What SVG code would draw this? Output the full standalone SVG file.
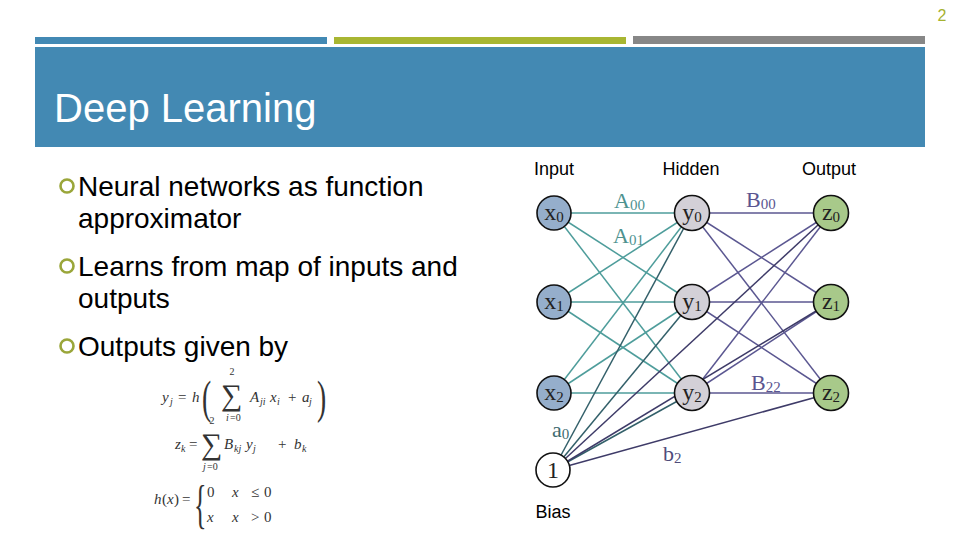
<svg xmlns="http://www.w3.org/2000/svg" width="960" height="540" viewBox="0 0 960 540">
<style>
.sans{font-family:"Liberation Sans",Arial,sans-serif}
.serif{font-family:"Liberation Serif","Times New Roman",serif}
.bullet{font-size:28px;fill:#000}
.ring{fill:none;stroke:#9aa63a;stroke-width:2.6}
.col{font-size:18px;fill:#000}
.node{stroke:#111;stroke-width:1.6}
.in{fill:#95aecb}
.hid{fill:#d3d0d7}
.out{fill:#a8c98a}
.bias{fill:#fff}
.nl{font-size:24px;fill:#222;text-anchor:middle}
.sub{font-size:15px}
.ih{stroke:#4e9d9b;stroke-width:1.5}
.bh{stroke:#33606a;stroke-width:1.5}
.ho{stroke:#5b5791;stroke-width:1.5}
.bo{stroke:#3e3b68;stroke-width:1.5}
.eq{font-family:"Liberation Serif","Times New Roman",serif;font-size:15px;fill:#333;font-style:italic}
.eqn{font-family:"Liberation Serif","Times New Roman",serif;fill:#333;font-style:normal}
.sm{font-size:10px}
</style>
<rect width="960" height="540" fill="#fff"/>
<text x="942" y="21" class="sans" font-size="16" fill="#a5b22f" text-anchor="middle">2</text>
<rect x="35" y="37" width="292" height="7" fill="#4289b4"/>
<rect x="334" y="37" width="292" height="7" fill="#a8b632"/>
<rect x="633" y="36" width="292" height="8" fill="#878787"/>
<rect x="35" y="47" width="890" height="100" fill="#4389b3"/>
<text x="54" y="122" class="sans" font-size="40" fill="#fff">Deep Learning</text>

<g id="bullets">
<circle class="ring" cx="67" cy="186" r="6.5"/>
<text x="78" y="196" class="sans bullet">Neural networks as function</text>
<text x="78" y="228" class="sans bullet">approximator</text>
<circle class="ring" cx="67" cy="266" r="6.5"/>
<text x="78" y="276" class="sans bullet">Learns from map of inputs and</text>
<text x="78" y="308" class="sans bullet">outputs</text>
<circle class="ring" cx="67" cy="346" r="6.5"/>
<text x="78" y="356" class="sans bullet">Outputs given by</text>
</g>

<g id="equations">
<text class="eq" x="162" y="402">y</text><text class="eq sm" x="170" y="405">j</text>
<text class="eqn" x="178" y="402" font-size="15">=</text>
<text class="eq" x="192" y="402">h</text>
<text class="eqn" x="202" y="413" font-size="46" transform="translate(202 0) scale(0.6 1) translate(-202 0)">(</text>
<text class="eqn" x="221" y="405" font-size="30">∑</text>
<text class="eqn sm" x="232" y="375" text-anchor="middle">2</text>
<text class="eq sm" x="226" y="421">i</text><text class="eqn sm" x="230" y="421">=0</text>
<text class="eq" x="250" y="402">A</text><text class="eq sm" x="260" y="405">ji</text>
<text class="eq" x="270" y="402">x</text><text class="eq sm" x="277" y="405">i</text>
<text class="eqn" x="288" y="402" font-size="15">+</text>
<text class="eq" x="302" y="402">a</text><text class="eq sm" x="309" y="405">j</text>
<text class="eqn" x="317" y="413" font-size="46" transform="translate(317 0) scale(0.6 1) translate(-317 0)">)</text>

<text class="eq" x="175" y="449">z</text><text class="eq sm" x="181" y="452">k</text>
<text class="eqn" x="189" y="449" font-size="15">=</text>
<text class="eqn" x="201" y="454" font-size="30">∑</text>
<text class="eqn sm" x="212" y="424" text-anchor="middle">2</text>
<text class="eq sm" x="203" y="470">j</text><text class="eqn sm" x="207" y="470">=0</text>
<text class="eq" x="224" y="449">B</text><text class="eq sm" x="234" y="452">kj</text>
<text class="eq" x="246" y="449">y</text><text class="eq sm" x="253" y="452">j</text>
<text class="eqn" x="278" y="449" font-size="15">+</text>
<text class="eq" x="294" y="449">b</text><text class="eq sm" x="302" y="452">k</text>

<text class="eq" x="154" y="504">h</text><text class="eqn" x="162" y="504" font-size="15">(</text><text class="eq" x="167" y="504">x</text><text class="eqn" x="174" y="504" font-size="15">)</text>
<text class="eqn" x="182" y="504" font-size="15">=</text>
<text class="eqn" x="194" y="522" font-size="52" transform="translate(194 0) scale(0.5 1) translate(-194 0)">{</text>
<text class="eqn" x="207" y="497" font-size="15">0</text>
<text class="eq" x="232" y="497">x</text><text class="eqn" x="251" y="497" font-size="15">≤</text><text class="eqn" x="264" y="497" font-size="15">0</text>
<text class="eq" x="207" y="522">x</text>
<text class="eq" x="232" y="522">x</text><text class="eqn" x="251" y="522" font-size="15">&gt;</text><text class="eqn" x="264" y="522" font-size="15">0</text>
</g>

<text x="554" y="175" class="sans col" text-anchor="middle">Input</text>
<text x="691" y="175" class="sans col" text-anchor="middle">Hidden</text>
<text x="829" y="175" class="sans col" text-anchor="middle">Output</text>
<text x="553" y="518" class="sans col" text-anchor="middle">Bias</text>

<g id="connectors">
<line class="ih" x1="554" y1="213" x2="692" y2="213"/>
<line class="ih" x1="554" y1="213" x2="692" y2="302"/>
<line class="ih" x1="554" y1="213" x2="692" y2="393"/>
<line class="ih" x1="554" y1="302" x2="692" y2="213"/>
<line class="ih" x1="554" y1="302" x2="692" y2="302"/>
<line class="ih" x1="554" y1="302" x2="692" y2="393"/>
<line class="ih" x1="554" y1="393" x2="692" y2="213"/>
<line class="ih" x1="554" y1="393" x2="692" y2="302"/>
<line class="ih" x1="554" y1="393" x2="692" y2="393"/>
<line class="bh" x1="553" y1="470" x2="692" y2="213"/>
<line class="bh" x1="553" y1="470" x2="692" y2="302"/>
<line class="bh" x1="553" y1="470" x2="692" y2="393"/>
<line class="ho" x1="692" y1="213" x2="831" y2="213"/>
<line class="ho" x1="692" y1="213" x2="831" y2="302"/>
<line class="ho" x1="692" y1="213" x2="831" y2="393"/>
<line class="ho" x1="692" y1="302" x2="831" y2="213"/>
<line class="ho" x1="692" y1="302" x2="831" y2="302"/>
<line class="ho" x1="692" y1="302" x2="831" y2="393"/>
<line class="ho" x1="692" y1="393" x2="831" y2="213"/>
<line class="ho" x1="692" y1="393" x2="831" y2="302"/>
<line class="ho" x1="692" y1="393" x2="831" y2="393"/>
<line class="bo" x1="553" y1="470" x2="831" y2="213"/>
<line class="bo" x1="553" y1="470" x2="831" y2="302"/>
<line class="bo" x1="553" y1="470" x2="831" y2="393"/>
</g>

<g id="edge-labels" class="serif">
<text x="614" y="208" font-size="22" fill="#4e9290">A<tspan font-size="15" dy="2">00</tspan></text>
<text x="613" y="243" font-size="22" fill="#4e9290">A<tspan font-size="15" dy="2">01</tspan></text>
<text x="746" y="207" font-size="22" fill="#5a5590">B<tspan font-size="15" dy="2">00</tspan></text>
<text x="751" y="390" font-size="22" fill="#5a5590">B<tspan font-size="15" dy="2">22</tspan></text>
<text x="552" y="437" font-size="22" fill="#3e6b70">a<tspan font-size="15" dy="2">0</tspan></text>
<text x="663" y="461" font-size="22" fill="#4f4c7a">b<tspan font-size="15" dy="2">2</tspan></text>
</g>

<g id="x0"><circle class="node in" cx="554" cy="213" r="17"/><text class="serif nl" x="554" y="220">x<tspan class="sub" dy="2">0</tspan></text></g>
<g id="x1"><circle class="node in" cx="554" cy="302" r="17"/><text class="serif nl" x="554" y="309">x<tspan class="sub" dy="2">1</tspan></text></g>
<g id="x2"><circle class="node in" cx="554" cy="393" r="17"/><text class="serif nl" x="554" y="400">x<tspan class="sub" dy="2">2</tspan></text></g>
<g id="bias"><circle class="node bias" cx="553" cy="470" r="17"/><text class="serif nl" x="553" y="478">1</text></g>
<g id="y0"><circle class="node hid" cx="692" cy="213" r="17.5"/><text class="serif nl" x="692" y="220">y<tspan class="sub" dy="2">0</tspan></text></g>
<g id="y1"><circle class="node hid" cx="692" cy="302" r="17.5"/><text class="serif nl" x="692" y="309">y<tspan class="sub" dy="2">1</tspan></text></g>
<g id="y2"><circle class="node hid" cx="692" cy="393" r="17.5"/><text class="serif nl" x="692" y="400">y<tspan class="sub" dy="2">2</tspan></text></g>
<g id="z0"><circle class="node out" cx="831" cy="213" r="17.5"/><text class="serif nl" x="831" y="220">z<tspan class="sub" dy="2">0</tspan></text></g>
<g id="z1"><circle class="node out" cx="831" cy="302" r="17.5"/><text class="serif nl" x="831" y="309">z<tspan class="sub" dy="2">1</tspan></text></g>
<g id="z2"><circle class="node out" cx="831" cy="393" r="17.5"/><text class="serif nl" x="831" y="400">z<tspan class="sub" dy="2">2</tspan></text></g>
</svg>
